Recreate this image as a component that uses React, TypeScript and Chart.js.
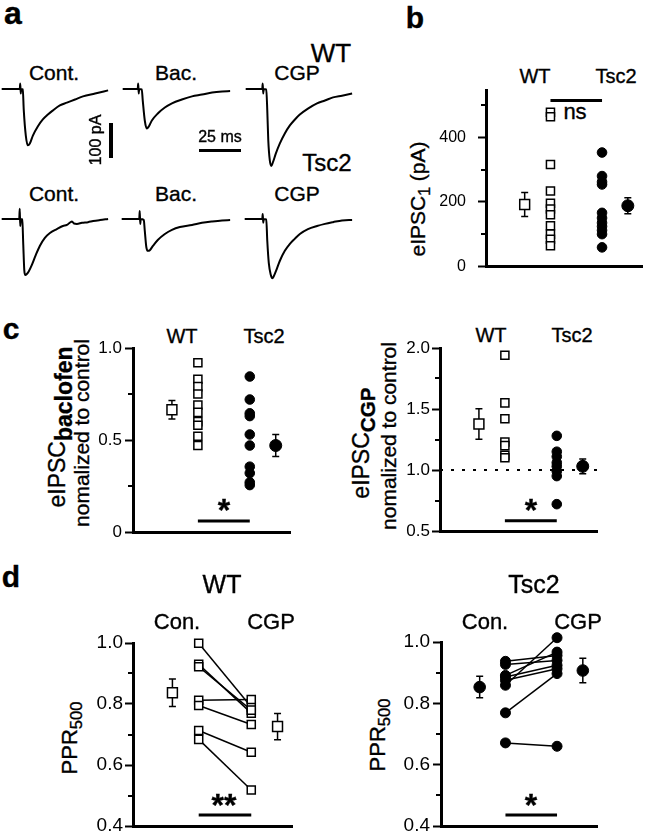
import React, { useEffect, useRef } from 'react';
import { Chart, registerables } from 'chart.js';
Chart.register(...registerables);

const FONT = '"Liberation Sans", Arial, Helvetica, sans-serif';
Chart.defaults.font.family = FONT;
Chart.defaults.color = '#000';

// ---------- panel a : example traces (time in ms, current in pA) ----------
const wtContT = [0, 10.7, 11.0, 11.3, 11.6, 12.5, 13.1, 14.3, 15.5, 16.7, 18.5, 21.4, 24.4, 27.4, 30.4, 34.5, 38.7, 43.5, 48.2, 55.4, 63.1];
const wtContI = [0, 0, 16, -13, 0, -1, -61, -133, -161, -156, -133, -107, -87, -73, -61, -47, -39, -30, -21, -13, -4];
const wtBacT = [0, 8.9, 9.2, 9.5, 9.8, 11.3, 11.9, 13.1, 14.3, 15.5, 17.3, 20.8, 25.0, 29.2, 35.1, 41.1, 47.0, 53.0, 59.0, 63.7];
const wtBacI = [0, 0, 16, -13, 0, -1, -33, -90, -113, -107, -90, -70, -53, -41, -30, -21, -16, -10, -7, -6];
const wtCgpT = [0, 9.8, 10.1, 10.4, 10.7, 12.2, 12.8, 13.4, 14.3, 15.2, 16.1, 17.9, 20.2, 23.2, 26.2, 29.2, 32.1, 36.9, 42.3, 47.0, 51.8, 57.1, 63.1];
const wtCgpI = [0, 0, 16, -13, 0, -1, -61, -147, -204, -220, -210, -184, -156, -127, -104, -87, -73, -56, -41, -33, -24, -19, -13];
const tsContT = [0, 10.4, 10.7, 11.0, 11.3, 12.2, 12.8, 13.4, 14.0, 14.9, 16.1, 17.9, 20.2, 22.6, 25.6, 28.6, 32.7, 36.3, 38.7, 40.5, 41.7, 42.9, 44.6, 47.6, 51.2, 54.2, 58.3, 63.1];
const tsContI = [0, 0, 29, -20, 0, -1, -74, -146, -160, -157, -149, -131, -103, -77, -54, -40, -29, -20, -17, -10, -7, -13, -14, -11, -9, -6, -3, 0];
const tsBacT = [0, 10.4, 10.7, 11.0, 11.3, 13.1, 13.7, 14.6, 15.5, 16.7, 18.5, 21.4, 25.6, 29.8, 34.5, 41.7, 47.6, 53.6, 59.5, 64.3];
const tsBacI = [0, 0, 23, -14, 0, -3, -34, -80, -91, -89, -77, -60, -43, -31, -23, -17, -11, -7, -4, -3];
const tsCgpT = [0, 10.4, 10.7, 11.0, 11.3, 12.8, 13.4, 14.3, 15.5, 16.4, 17.3, 19.0, 20.8, 23.8, 26.8, 29.8, 32.7, 37.5, 42.9, 47.6, 52.4, 57.7, 63.7];
const tsCgpI = [0, 0, 14, -11, 0, -1, -63, -126, -160, -169, -163, -143, -120, -91, -71, -56, -43, -29, -20, -14, -9, -4, -3];

// ---------- group positions on the x axis ----------
const POS_WT_MEAN = 1, POS_WT = 2, POS_TS = 4, POS_TS_MEAN = 5;
const X_MIN = -0.5, X_MAX = 5.55;

// ---------- panel b : eIPSC1 (pA) ----------
const bWT = [478, 464, 316, 234, 196, 178, 160, 126, 100, 84, 64];
const bTsc2 = [353, 280, 262, 254, 166, 150, 135, 124, 112, 100, 59];
const bMean = [192, 188];
const bSem = [37, 25];
const bSigY = 514;
const bMajor = [0, 200, 400];
const bMajorLabels = ['0', '200', '400'];
const bMinor = [100, 300, 500];

// ---------- panel c left : baclofen normalized ----------
const cbWT = [0.92, 0.83, 0.79, 0.75, 0.69, 0.65, 0.6, 0.58, 0.52, 0.47];
const cbTsc2 = [0.845, 0.72, 0.645, 0.63, 0.53, 0.47, 0.355, 0.32, 0.27, 0.255];
const cbMean = [0.664, 0.47];
const cbSem = [0.05, 0.06];
const cbSigY = 0.06;
const cbMajor = [0, 0.5, 1.0];
const cbMajorLabels = ['0', '0.5', '1.0'];
const cbMinor = [0.25, 0.75];

// ---------- panel c right : CGP normalized ----------
const ccWT = [1.94, 1.55, 1.42, 1.23, 1.2, 1.12, 1.1];
const ccTsc2 = [1.28, 1.15, 1.11, 1.06, 1.03, 0.99, 0.95, 0.72];
const ccMean = [1.377, 1.03];
const ccSem = [0.125, 0.06];
const ccSigY = 0.585;
const ccRef = 1.0;
const ccMajor = [0.5, 1.0, 1.5, 2.0];
const ccMajorLabels = ['0.5', '1.0', '1.5', '2.0'];
const ccMinor = [0.75, 1.25, 1.75];

// ---------- panel d : PPR500 paired ----------
const dWTCon = [0.999, 0.93, 0.922, 0.812, 0.795, 0.713, 0.684];
const dWTCgp = [0.79, 0.77, 0.78, 0.815, 0.733, 0.642, 0.518];
const dWTMean = [0.837, 0.726];
const dWTSem = [0.045, 0.043];
const dTsCon = [0.937, 0.927, 0.891, 0.886, 0.875, 0.859, 0.769, 0.671];
const dTsCgp = [0.956, 0.94, 0.967, 0.924, 0.913, 1.014, 0.897, 0.66];
const dTsMean = [0.853, 0.907];
const dTsSem = [0.035, 0.04];
const dSigY = 0.436;
const dMajor = [0.4, 0.6, 0.8, 1.0];
const dMajorLabels = ['0.4', '0.6', '0.8', '1.0'];
const dMinor = [0.5, 0.7, 0.9];

// ---------- helpers ----------
const PX_MS = 1.68, PX_PA = 0.35;
const T_MIN = -1, T_MAX = 66, I_MIN = -240, I_MAX = 40;

function Trace({ left, baseline, t, i }: { left: number; baseline: number; t: number[]; i: number[] }) {
  const ref = useRef<HTMLCanvasElement>(null);
  const W = Math.round((T_MAX - T_MIN) * PX_MS);
  const H = Math.round((I_MAX - I_MIN) * PX_PA);
  useEffect(() => {
    const chart = new Chart(ref.current!, {
      type: 'line',
      data: {
        datasets: [{
          data: t.map((x, k) => ({ x, y: i[k] })),
          borderColor: '#000', borderWidth: 2, pointRadius: 0, fill: false,
          cubicInterpolationMode: 'monotone', clip: false,
        } as any],
      },
      options: {
        responsive: false, animation: false, events: [],
        layout: { padding: 0 },
        plugins: { legend: { display: false }, tooltip: { enabled: false } },
        scales: {
          x: { type: 'linear', display: false, min: T_MIN, max: T_MAX },
          y: { type: 'linear', display: false, min: I_MIN, max: I_MAX },
        },
      },
    });
    return () => chart.destroy();
  }, []);
  return (
    <canvas ref={ref} width={W} height={H}
      style={{ position: 'absolute', left: left + T_MIN * PX_MS, top: baseline - I_MAX * PX_PA, width: W, height: H }} />
  );
}

const YW = 60, PT = 16, PR = 8, XH = 16;

type ErrBar = { x: number; mean: number; sem: number };

function extras(minor: number[], errBars: ErrBar[]) {
  return {
    id: 'extras',
    beforeDatasetsDraw(chart: any) {
      const { ctx, scales: { x, y } } = chart;
      ctx.save();
      ctx.strokeStyle = '#000';
      ctx.lineWidth = 1.5;
      errBars.forEach((e) => {
        const px = x.getPixelForValue(e.x);
        const top = y.getPixelForValue(e.mean + e.sem);
        const bot = y.getPixelForValue(e.mean - e.sem);
        ctx.beginPath();
        ctx.moveTo(px, top); ctx.lineTo(px, bot);
        ctx.moveTo(px - 3.5, top); ctx.lineTo(px + 3.5, top);
        ctx.moveTo(px - 3.5, bot); ctx.lineTo(px + 3.5, bot);
        ctx.stroke();
      });
      ctx.restore();
    },
    afterDraw(chart: any) {
      const { ctx, scales: { y }, chartArea } = chart;
      ctx.save();
      ctx.strokeStyle = '#000';
      ctx.lineWidth = 2;
      minor.forEach((v) => {
        const py = Math.round(y.getPixelForValue(v));
        ctx.beginPath();
        ctx.moveTo(chartArea.left - 5, py);
        ctx.lineTo(chartArea.left, py);
        ctx.stroke();
      });
      ctx.restore();
    },
  };
}

type PanelProps = {
  area: { l: number; t: number; r: number; b: number };
  yMin: number; yMax: number;
  major: number[]; majorLabels: string[]; minor: number[];
  tickFont: number; tickPad: number;
  datasets: any[];
  errBars: ErrBar[];
};

function Panel(p: PanelProps) {
  const ref = useRef<HTMLCanvasElement>(null);
  const { l, t, r, b } = p.area;
  const W = r - l + YW + PR;
  const H = b - t + PT + XH;
  useEffect(() => {
    const isMajor = (v: number) => p.major.findIndex((m) => Math.abs(m - v) < 1e-9);
    const all = [...p.major, ...p.minor].sort((a, c) => a - c);
    const chart = new Chart(ref.current!, {
      type: 'scatter',
      data: { datasets: p.datasets },
      options: {
        responsive: false, animation: false, events: [],
        layout: { padding: { left: 0, top: PT, right: PR, bottom: 0 }, autoPadding: false } as any,
        plugins: { legend: { display: false }, tooltip: { enabled: false } },
        scales: {
          x: {
            type: 'linear', min: X_MIN, max: X_MAX,
            ticks: { display: false },
            grid: { display: false, drawTicks: false },
            border: { display: true, width: 3, color: '#000' },
            afterFit: (s: any) => { s.height = XH; },
          },
          y: {
            type: 'linear', min: p.yMin, max: p.yMax,
            afterBuildTicks: (s: any) => { s.ticks = all.map((v) => ({ value: v })); },
            ticks: {
              color: '#000', autoSkip: false, padding: p.tickPad,
              font: { size: p.tickFont, family: FONT },
              callback: (v: any) => { const k = isMajor(Number(v)); return k >= 0 ? p.majorLabels[k] : ''; },
            },
            grid: {
              drawOnChartArea: false, drawTicks: true, tickLength: 8, tickWidth: 2,
              tickColor: (c: any) => (isMajor(c.tick ? c.tick.value : NaN) >= 0 ? '#000' : 'rgba(0,0,0,0)'),
            },
            border: { display: true, width: 3, color: '#000' },
            afterFit: (s: any) => { s.width = YW; },
          },
        },
      } as any,
      plugins: [extras(p.minor, p.errBars)],
    });
    return () => chart.destroy();
  }, []);
  return (
    <canvas ref={ref} width={W} height={H}
      style={{ position: 'absolute', left: l - YW, top: t - PT, width: W, height: H }} />
  );
}

const squares = (data: any[], r: number) => ({
  data, pointStyle: 'rect', pointRadius: r, pointBackgroundColor: '#fff', pointBorderColor: '#000',
  pointBorderWidth: 1.5, showLine: false, clip: false, order: 1,
});
const dots = (data: any[], r: number) => ({
  data, pointStyle: 'circle', pointRadius: r, pointBackgroundColor: '#000', pointBorderColor: '#000',
  pointBorderWidth: 1, showLine: false, clip: false, order: 1,
});
const seg = (x1: number, y1: number, x2: number, y2: number, w: number, dash: number[] = [], order = 2) => ({
  data: [{ x: x1, y: y1 }, { x: x2, y: y2 }], showLine: true, borderColor: '#000', borderWidth: w,
  borderDash: dash, pointRadius: 0, clip: false, order,
});
const at = (x: number, vals: number[]) => vals.map((y) => ({ x, y }));

function groupSets(wt: number[], ts: number[], mean: number[], sigY: number) {
  return [
    squares(at(POS_WT, wt), 5.7),
    squares([{ x: POS_WT_MEAN, y: mean[0] }], 7),
    dots(at(POS_TS, ts), 4.8),
    dots([{ x: POS_TS_MEAN, y: mean[1] }], 6),
    seg(POS_WT, sigY, POS_TS, sigY, 3),
  ];
}
const errs = (mean: number[], sem: number[]): ErrBar[] => [
  { x: POS_WT_MEAN, mean: mean[0], sem: sem[0] },
  { x: POS_TS_MEAN, mean: mean[1], sem: sem[1] },
];

function pairedSets(con: number[], cgp: number[], mean: number[], filled: boolean) {
  const mk = filled ? dots : squares;
  const lines = con.map((c, k) => seg(POS_WT, c, POS_TS, cgp[k], 1.5, [], 3));
  return [
    ...lines,
    mk(at(POS_WT, con), filled ? 5 : 5.7),
    mk(at(POS_TS, cgp), filled ? 5 : 5.7),
    mk([{ x: POS_WT_MEAN, y: mean[0] }], filled ? 5.8 : 7),
    mk([{ x: POS_TS_MEAN, y: mean[1] }], filled ? 5.8 : 7),
    seg(POS_WT, dSigY, POS_TS, dSigY, 3),
  ];
}

const STROKE = '0.35px #000';
function T({ x, y, s, b, children }: any) {
  return (
    <div style={{ position: 'absolute', left: x, top: y, transform: 'translate(-50%,-50%)', fontSize: s,
      fontWeight: b ? 700 : 400, lineHeight: 1, whiteSpace: 'nowrap', WebkitTextStroke: STROKE }}>{children}</div>
  );
}
function R({ x, y, s, children }: any) {
  return (
    <div style={{ position: 'absolute', left: x, top: y, transform: 'translate(-50%,-50%) rotate(-90deg)',
      fontSize: s, lineHeight: 1, whiteSpace: 'nowrap', WebkitTextStroke: STROKE }}>{children}</div>
  );
}
const Sub = ({ children, b, size }: any) => (
  <span style={{ fontSize: size || '0.75em', fontWeight: b ? 700 : 400, position: 'relative', top: '0.3em' }}>{children}</span>
);

export default function App() {
  return (
    <div style={{ position: 'absolute', left: 0, top: 0, width: 645, height: 834, background: '#fff',
      fontFamily: FONT, color: '#000', overflow: 'hidden' }}>
      {/* panel a */}
      <T x={13} y={13} s={32} b>a</T>
      <T x={54} y={72} s={21}>Cont.</T>
      <T x={176} y={72} s={21}>Bac.</T>
      <T x={297} y={72} s={21}>CGP</T>
      <T x={331} y={53} s={26}>WT</T>
      <T x={327} y={163} s={24}>Tsc2</T>
      <T x={54} y={193} s={21}>Cont.</T>
      <T x={176} y={193} s={21}>Bac.</T>
      <T x={297} y={193} s={21}>CGP</T>
      <Trace left={2} baseline={88.5} t={wtContT} i={wtContI} />
      <Trace left={123} baseline={88.5} t={wtBacT} i={wtBacI} />
      <Trace left={246} baseline={88.5} t={wtCgpT} i={wtCgpI} />
      <Trace left={2} baseline={218.5} t={tsContT} i={tsContI} />
      <Trace left={122} baseline={218.5} t={tsBacT} i={tsBacI} />
      <Trace left={245} baseline={218.5} t={tsCgpT} i={tsCgpI} />
      <div style={{ position: 'absolute', left: 109, top: 123, width: 3.5, height: 100 * PX_PA, background: '#000' }} />
      <div style={{ position: 'absolute', left: 199, top: 148.5, width: 25 * PX_MS, height: 3, background: '#000' }} />
      <R x={95.5} y={140} s={16}>100 pA</R>
      <T x={220} y={137} s={16}>25 ms</T>

      {/* panel b */}
      <T x={415} y={18} s={30} b>b</T>
      <T x={535} y={76} s={20}>WT</T>
      <T x={616} y={76} s={20}>Tsc2</T>
      <T x={575} y={111.5} s={22}>ns</T>
      <R x={417} y={199} s={21}>eIPSC<Sub>1</Sub> (pA)</R>
      <Panel area={{ l: 486, t: 85, r: 642, b: 272 }} yMin={0} yMax={545}
        major={bMajor} majorLabels={bMajorLabels} minor={bMinor} tickFont={16} tickPad={12}
        datasets={groupSets(bWT, bTsc2, bMean, bSigY)} errBars={errs(bMean, bSem)} />

      {/* panel c */}
      <T x={11} y={328.5} s={30} b>c</T>
      <T x={182} y={336} s={20}>WT</T>
      <T x={264} y={336} s={20}>Tsc2</T>
      <T x={491} y={335} s={20}>WT</T>
      <T x={572} y={335} s={20}>Tsc2</T>
      <R x={57} y={427} s={23}>eIPSC<Sub b size="1em">baclofen</Sub></R>
      <R x={81} y={433} s={21}>nomalized to control</R>
      <R x={361} y={443} s={23}>eIPSC<Sub b size="0.9em">CGP</Sub></R>
      <R x={388} y={436} s={21}>nomalized to control</R>
      <Panel area={{ l: 133, t: 348, r: 290, b: 532 }} yMin={0} yMax={1.0}
        major={cbMajor} majorLabels={cbMajorLabels} minor={cbMinor} tickFont={17} tickPad={3}
        datasets={groupSets(cbWT, cbTsc2, cbMean, cbSigY)} errBars={errs(cbMean, cbSem)} />
      <Panel area={{ l: 440, t: 348, r: 597, b: 531 }} yMin={0.5} yMax={2.0}
        major={ccMajor} majorLabels={ccMajorLabels} minor={ccMinor} tickFont={17} tickPad={2}
        datasets={[...groupSets(ccWT, ccTsc2, ccMean, ccSigY), seg(X_MIN, ccRef, X_MAX, ccRef, 2, [3, 8], 4)]}
        errBars={errs(ccMean, ccSem)} />
      <T x={224} y={510} s={32} b>*</T>
      <T x={531} y={510} s={32} b>*</T>

      {/* panel d */}
      <T x={11} y={577} s={30} b>d</T>
      <T x={222} y={584} s={25}>WT</T>
      <T x={177} y={622} s={22}>Con.</T>
      <T x={271} y={622} s={22}>CGP</T>
      <T x={534} y={584} s={25}>Tsc2</T>
      <T x={485} y={622} s={22}>Con.</T>
      <T x={578} y={622} s={22}>CGP</T>
      <R x={70} y={738} s={22}>PPR<Sub>500</Sub></R>
      <R x={378} y={735} s={22}>PPR<Sub>500</Sub></R>
      <Panel area={{ l: 133, t: 643, r: 292, b: 826 }} yMin={0.4} yMax={1.0}
        major={dMajor} majorLabels={dMajorLabels} minor={dMinor} tickFont={19} tickPad={2}
        datasets={pairedSets(dWTCon, dWTCgp, dWTMean, false)} errBars={errs(dWTMean, dWTSem)} />
      <Panel area={{ l: 441, t: 642, r: 597, b: 826 }} yMin={0.4} yMax={1.0}
        major={dMajor} majorLabels={dMajorLabels} minor={dMinor} tickFont={19} tickPad={3}
        datasets={pairedSets(dTsCon, dTsCgp, dTsMean, true)} errBars={errs(dTsMean, dTsSem)} />
      <T x={224} y={805} s={32} b>**</T>
      <T x={531} y={805} s={32} b>*</T>
    </div>
  );
}
